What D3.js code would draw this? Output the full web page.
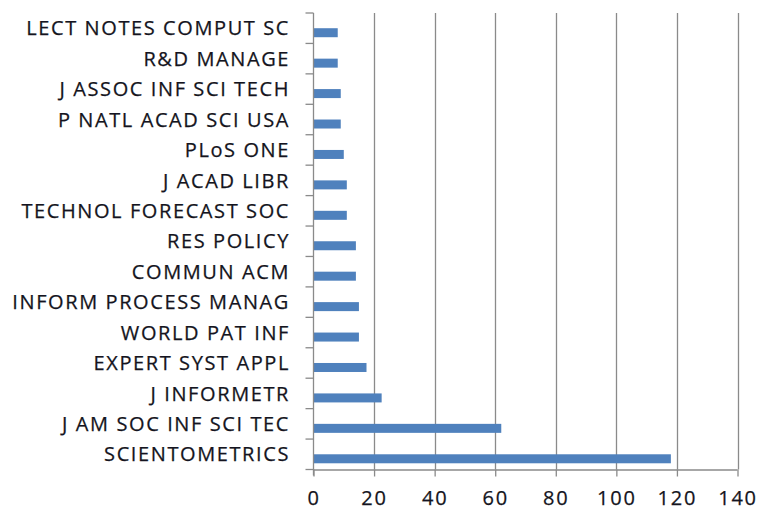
<!DOCTYPE html>
<html>
<head>
<meta charset="utf-8">
<script src="https://cdn.jsdelivr.net/npm/d3@7"></script>
<style>
  html, body { margin: 0; padding: 0; background: #fff; overflow: hidden; }
  svg { display: block; }
</style>
</head>
<body>
<svg id="chart" width="761" height="508"></svg>
<script>
// Journals, top to bottom as drawn
const journals = [
  "LECT NOTES COMPUT SC",
  "R&D MANAGE",
  "J ASSOC INF SCI TECH",
  "P NATL ACAD SCI USA",
  "PLoS ONE",
  "J ACAD LIBR",
  "TECHNOL FORECAST SOC",
  "RES POLICY",
  "COMMUN ACM",
  "INFORM PROCESS MANAG",
  "WORLD PAT INF",
  "EXPERT SYST APPL",
  "J INFORMETR",
  "J AM SOC INF SCI TEC",
  "SCIENTOMETRICS"
];
const counts = [8, 8, 9, 9, 10, 11, 11, 14, 14, 15, 15, 17.5, 22.5, 62, 118];
const xTicks = [0, 20, 40, 60, 80, 100, 120, 140];

const svg = d3.select("#chart");
const plotLeft = 313.5, plotRight = 737.5, plotTop = 13, plotBottom = 469.5;

const x = d3.scaleLinear().domain([0, 140]).range([plotLeft, plotRight]);
const y = d3.scaleBand().domain(journals).range([plotTop, plotBottom]).paddingInner(0).paddingOuter(0);

const font = "'Open Sans', sans-serif";
const grid = "#8a8a8a";
const ink = "#141420";

// vertical gridlines
svg.append("g").selectAll("line")
  .data(xTicks.filter(d => d > 0))
  .join("line")
  .attr("x1", d => Math.round(x(d)) + 0.5).attr("x2", d => Math.round(x(d)) + 0.5)
  .attr("y1", plotTop).attr("y2", plotBottom)
  .attr("stroke", grid).attr("stroke-width", 1.3);

// bars (offset below band centre, like a two-series clustered bar)
const barH = 9;
svg.append("g").selectAll("rect")
  .data(journals.map((j, i) => ({ j, v: counts[i] })))
  .join("rect")
  .attr("x", x(0))
  .attr("y", d => y(d.j) + y.bandwidth() / 2)
  .attr("width", d => x(d.v) - x(0))
  .attr("height", barH)
  .attr("fill", "#4F81BD");

// y axis
const yAxis = d3.axisLeft(y).tickSize(0).tickPadding(0).tickFormat("");
const yg = svg.append("g").attr("transform", `translate(${plotLeft},0)`).call(yAxis);
yg.select(".domain").remove();
yg.append("line").attr("x1", 0).attr("x2", 0).attr("y1", plotTop).attr("y2", plotBottom + 6)
  .attr("stroke", grid).attr("stroke-width", 1.3);
const boundaries = journals.map(j => y(j)).concat([plotBottom]);
yg.selectAll("line.tk").data(boundaries).join("line").attr("class", "tk")
  .attr("x1", -8).attr("x2", 0)
  .attr("y1", d => d).attr("y2", d => d)
  .attr("stroke", grid).attr("stroke-width", 1.3);

// category labels
svg.append("g").selectAll("text")
  .data(journals)
  .join("text")
  .attr("x", 290)
  .attr("y", d => y(d) + y.bandwidth() / 2)
  .attr("dy", "0.36em")
  .attr("text-anchor", "end")
  .attr("font-family", font)
  .attr("font-size", 20)
  .attr("letter-spacing", "1.6px")
  .attr("fill", ink)
  .attr("stroke", ink).attr("stroke-width", 0.25)
  .text(d => d);

// x axis
const xAxis = d3.axisBottom(x).tickValues(xTicks).tickSize(7).tickPadding(14).tickFormat(d3.format("d"));
const xg = svg.append("g").attr("transform", `translate(0,${plotBottom})`).call(xAxis);
xg.select(".domain").attr("stroke", grid).attr("stroke-width", 1.3).attr("d", `M${plotLeft},0.5H${plotRight}`);
xg.selectAll(".tick line").attr("stroke", grid).attr("stroke-width", 1.3);
xg.selectAll(".tick text")
  .attr("font-family", font).attr("font-size", 20).attr("letter-spacing", "1.8px")
  .attr("fill", ink).attr("stroke", ink).attr("stroke-width", 0.25);
</script>
</body>
</html>
